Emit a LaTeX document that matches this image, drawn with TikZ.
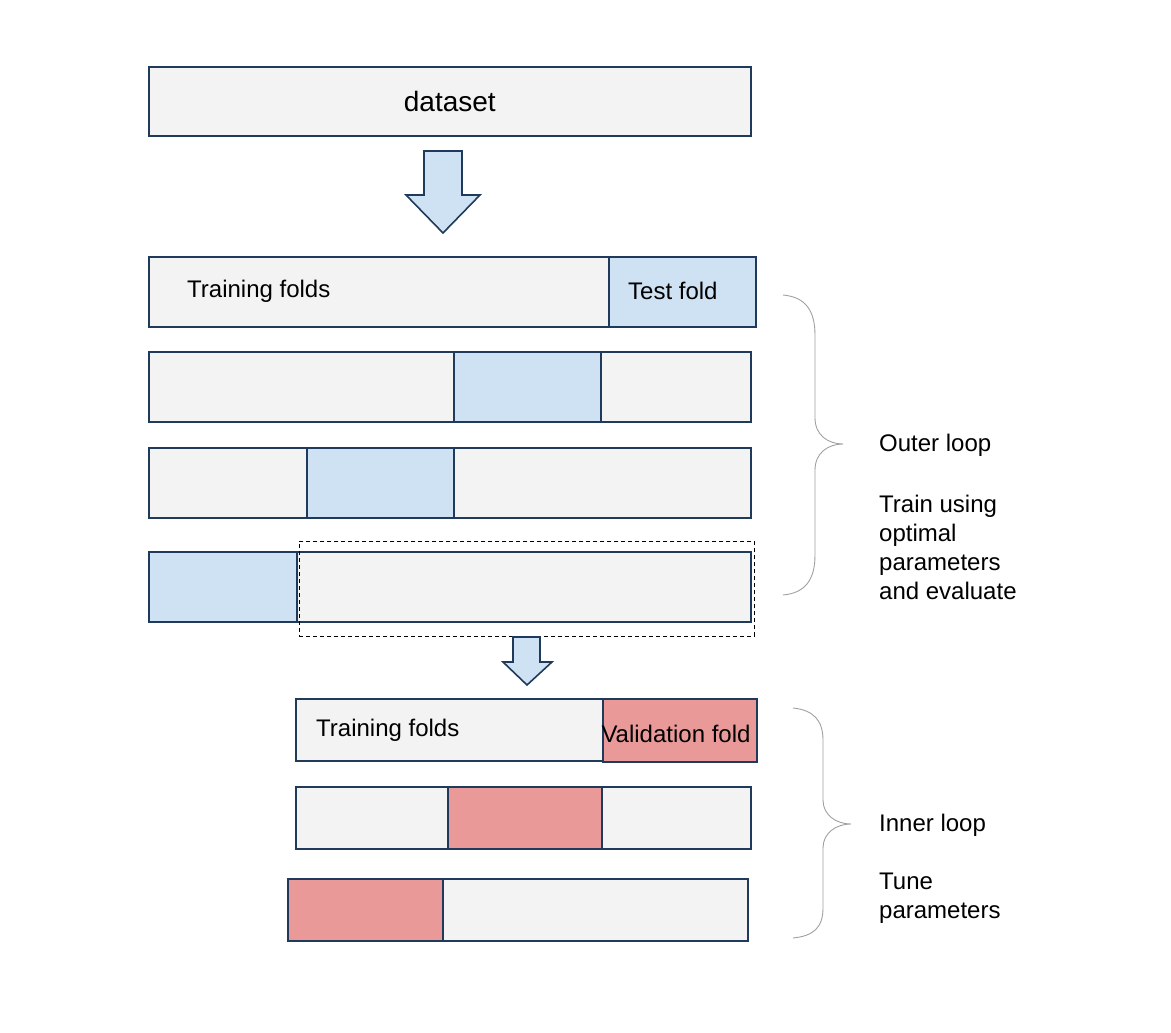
\documentclass[tikz,border=0pt]{standalone}
\usepackage{fontspec}
\setmainfont{Liberation Sans}
\usepackage{tikz}
\usetikzlibrary{shapes,shadows,calc}
\definecolor{barline}{HTML}{1F3A5A}
\definecolor{bargray}{HTML}{F3F3F3}
\definecolor{testblue}{HTML}{CFE2F3}
\definecolor{valred}{HTML}{EA9999}
\definecolor{bracegray}{HTML}{A0A0A0}

\begin{document}
\begin{tikzpicture}[x=1pt, y=-1pt,
	bar/.style={rectangle, draw=barline, fill=bargray, line width=1.6pt, anchor=north west, inner sep=0pt,
		drop shadow={shadow xshift=0.8pt, shadow yshift=-1.5pt, opacity=0.25}},
	testfold/.style={bar, fill=testblue},
	valfold/.style={bar, fill=valred},
	lbl/.style={font=\fontsize{24}{29}\selectfont, inner sep=0pt},
	blockarrow/.style={draw=barline, fill=testblue, line width=1.6pt, line join=miter},
	loopbrace/.style={draw=bracegray, line width=0.9pt}]
	\useasboundingbox (0,0) rectangle (1171,1033);
	
	% dataset
	\node[bar, minimum width=602pt, minimum height=69pt] (data) at (148,66) {};
	\node[lbl, font=\fontsize{28}{34}\selectfont] (datatxt) at (data.center) {dataset};
	\draw[blockarrow] (424,151) -- (462,151) -- (462,195) -- (480,195) -- (443,233) -- (406,195) -- (424,195) -- cycle;
	
	% outer loop
	\node[bar, minimum width=602pt, minimum height=70pt] (o1) at (148,256) {};
	\node[testfold, minimum width=147pt, minimum height=70pt] (t1) at (608,256) {};
	\node[bar, minimum width=602pt, minimum height=70pt] (o2) at (148,351) {};
	\node[testfold, minimum width=147pt, minimum height=70pt] (t2) at (453,351) {};
	\node[bar, minimum width=602pt, minimum height=70pt] (o3) at (148,447) {};
	\node[testfold, minimum width=147pt, minimum height=70pt] (t3) at (306,447) {};
	\node[bar, minimum width=602pt, minimum height=70pt] (o4) at (148,551) {};
	\node[testfold, minimum width=148pt, minimum height=70pt] (t4) at (148,551) {};
	\node[lbl, anchor=west] (otrain) at (187,291) {Training folds};
	\node[lbl, anchor=west] (otest) at (628,291) {Test fold};
	\node[draw, dash pattern=on 4pt off 3pt, line width=0.8pt, anchor=north west, inner sep=0pt,
		minimum width=455pt, minimum height=95pt] (sel) at (299,541) {};
	\draw[blockarrow] (513,637) -- (540,637) -- (540,662) -- (552,662) -- (527,685) -- (503,662) -- (513,662) -- cycle;
	
	% inner loop
	\node[bar, minimum width=455pt, minimum height=62pt] (i1) at (295,698) {};
	\node[valfold, minimum width=154pt, minimum height=63pt] (v1) at (602,698) {};
	\node[bar, minimum width=455pt, minimum height=62pt] (i2) at (295,786) {};
	\node[valfold, minimum width=154pt, minimum height=62pt] (v2) at (447,786) {};
	\node[bar, minimum width=460pt, minimum height=62pt] (i3) at (287,878) {};
	\node[valfold, minimum width=155pt, minimum height=62pt] (v3) at (287,878) {};
	\node[lbl, anchor=west] (itrain) at (316,730) {Training folds};
	\node[lbl] (ival) at (676,734) {Validation fold};
	
	% braces
	\draw[loopbrace] (783,295) .. controls (805,297) and (815,310) .. (815,335) -- (815,418)
		.. controls (815,435) and (828,444) .. (843,444) .. controls (828,444) and (815,453) .. (815,470)
		-- (815,555) .. controls (815,580) and (805,593) .. (783,595);
	\draw[loopbrace] (793,708) .. controls (813,710) and (823,720) .. (823,740) -- (823,800)
		.. controls (823,815) and (836,824) .. (851,824) .. controls (836,824) and (823,833) .. (823,848)
		-- (823,908) .. controls (823,928) and (813,936) .. (793,938);
	\node[lbl, anchor=west] (outer) at (879,445) {Outer loop};
	\node[lbl, anchor=west, align=left] (outerdesc) at (879,547) {Train using\\optimal\\parameters\\and evaluate};
	\node[lbl, anchor=west] (inner) at (879,825) {Inner loop};
	\node[lbl, anchor=west, align=left] (innerdesc) at (879,898) {Tune\\parameters};
\end{tikzpicture}
\end{document}
